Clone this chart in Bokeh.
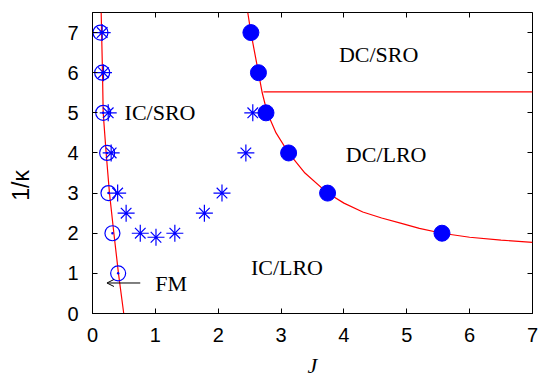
from bokeh.plotting import figure
from bokeh.models import (Range1d, LinearAxis, Label, Arrow, OpenHead,
                          CustomLabelingPolicy)
from bokeh.embed import file_html
from bokeh.resources import INLINE

# ---- data ----
# open circles
open_J = [0.127, 0.154, 0.17, 0.233, 0.254, 0.317, 0.408]
open_y = [7, 6, 5, 4, 3, 2, 1]

# asterisks
star_J = [0.154, 0.175, 0.25, 0.297, 0.40, 0.535, 0.76, 1.01, 1.31, 1.78, 2.06, 2.44, 2.55]
star_y = [7, 6, 5, 4, 3, 2.5, 2, 1.9, 2, 2.5, 3, 4, 5]

# filled circles
fill_J = [2.52, 2.64, 2.76, 3.12, 3.74, 5.56]
fill_y = [7, 6, 5, 4, 3, 2]

# red curve, left
left_curve_J = [0.138, 0.159, 0.17, 0.217, 0.27, 0.34, 0.413, 0.497]
left_curve_y = [7.5, 6, 5, 4, 3, 2, 1, 0]

# red curve, right
right_curve_J = [2.47, 2.52, 2.58, 2.64, 2.70, 2.78, 2.92, 3.12, 3.38, 3.74, 4.0, 4.3,
                 4.6, 4.9, 5.2, 5.56, 6.0, 6.5, 7.0]
right_curve_y = [7.5, 7.0, 6.5, 6.0, 5.5, 5.0, 4.5, 4.0, 3.5, 3.0, 2.75, 2.53,
                 2.38, 2.25, 2.12, 2.0, 1.90, 1.83, 1.77]

# horizontal SRO/LRO boundary
hline_J = [2.72, 7.0]
hline_y = [5.52, 5.52]

# region labels
region_text = ["IC/SRO", "DC/SRO", "DC/LRO", "IC/LRO", "FM"]
region_J = [0.51, 3.92, 4.03, 2.52, 1.0]
region_y = [5.0, 6.46, 3.95, 1.14, 0.74]

# FM arrow
arrow_J = [0.76, 0.23]
arrow_y = [0.76, 0.76]

x_ticks = [0, 1, 2, 3, 4, 5, 6, 7]
y_ticks = [0, 1, 2, 3, 4, 5, 6, 7]

x_title = "J"
y_title = "1/κ"

BLUE = "#0000ff"
RED = "#ff0000"
SERIF = "Liberation Serif"
SANS = "Liberation Sans"

p = figure(width=541, height=382, output_backend="svg", toolbar_location=None,
           x_range=Range1d(0, 7), y_range=Range1d(0, 7.5),
           min_border_left=92, min_border_right=8, min_border_top=12,
           min_border_bottom=69)
p.background_fill_color = "white"
p.border_fill_color = "white"
p.outline_line_color = "black"
p.outline_line_width = 1
p.xgrid.visible = False
p.ygrid.visible = False

for ax in (p.xaxis[0], p.yaxis[0]):
    ax.major_tick_in = 5
    ax.major_tick_out = 0
    ax.minor_tick_in = 0
    ax.minor_tick_out = 0
    ax.major_label_text_font = SANS
    ax.major_label_text_font_size = "20px"
    ax.major_label_text_color = "black"
    ax.major_label_standoff = 14
    ax.axis_line_color = "black"
    ax.major_tick_line_color = "black"
p.xaxis[0].ticker = x_ticks
p.yaxis[0].ticker = y_ticks

# x axis title
xa = p.xaxis[0]
xa.axis_label = x_title
xa.axis_label_text_font = SERIF
xa.axis_label_text_font_style = "italic"
xa.axis_label_text_font_size = "22px"
xa.axis_label_text_color = "black"
xa.axis_label_standoff = 8

# y axis title (non-breaking spaces shift the visible text below the frame centre)
ya = p.yaxis[0]
ya.axis_label = y_title + "\u00a0" * 7
ya.axis_label_text_font = SANS
ya.axis_label_text_font_style = "normal"
ya.axis_label_text_font_size = "23px"
ya.axis_label_text_color = "black"
ya.axis_label_standoff = 30

# mirror ticks on top and right (no labels)
for loc in ("above", "right"):
    ax = LinearAxis(ticker=x_ticks if loc == "above" else y_ticks,
                    major_label_policy=CustomLabelingPolicy(code="return new Set()"))
    ax.major_tick_in = 5
    ax.major_tick_out = 0
    ax.minor_tick_in = 0
    ax.minor_tick_out = 0
    ax.major_label_standoff = 0
    ax.axis_line_color = None
    ax.major_tick_line_color = "black"
    p.add_layout(ax, loc)

# red lines
p.line(left_curve_J, left_curve_y, line_color=RED, line_width=1.2)
p.line(right_curve_J, right_curve_y, line_color=RED, line_width=1.2)
p.line(hline_J, hline_y, line_color=RED, line_width=1.2)

# open circles
p.scatter(open_J, open_y, marker="circle", size=15, fill_color=None,
          line_color=BLUE, line_width=1.2)
p.scatter(open_J, open_y, marker="circle", size=2.5, fill_color=BLUE, line_color=None)

# asterisks
p.scatter(star_J, star_y, marker="cross", size=17, line_color=BLUE, line_width=1.2)
p.scatter(star_J, star_y, marker="x", size=15, line_color=BLUE, line_width=1.2)
p.scatter(star_J, star_y, marker="circle", size=3, fill_color=BLUE, line_color=None)

# filled circles
p.scatter(fill_J, fill_y, marker="circle", size=16, fill_color=BLUE, line_color=BLUE)

# region labels
for t, xj, yy in zip(region_text, region_J, region_y):
    p.add_layout(Label(x=xj, y=yy, text=t, text_font=SERIF, text_font_size="22px",
                       text_align="left", text_baseline="middle", text_color="black"))

# FM arrow
p.add_layout(Arrow(x_start=arrow_J[0], y_start=arrow_y[0], x_end=arrow_J[1], y_end=arrow_y[1],
                   line_color="black", line_width=1,
                   end=OpenHead(size=7, line_color="black", line_width=1)))

open("out.html", "w").write(file_html(p, INLINE))
